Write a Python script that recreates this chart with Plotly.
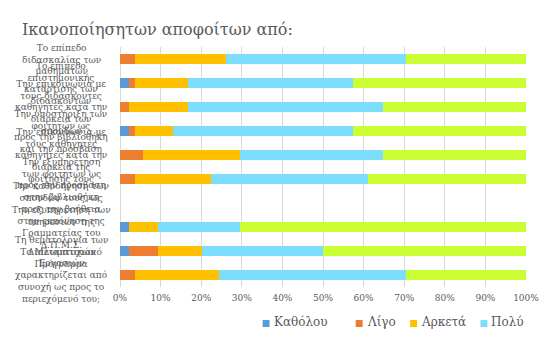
import plotly.graph_objects as go

categories = [
    "Το επίπεδο<br>διδασκαλίας των<br>μαθημάτων",
    "Το επίπεδο<br>επιστημονικής<br>κατάρτισης των<br>διδασκόντων",
    "Την επικοινωνία με<br>τους διδάσκοντες<br>καθηγητές κατά την<br>διάρκεια των<br>σπουδών",
    "Την υποστήριξη των<br>φοιτητών ως<br>προς την βιβλιοθήκη<br>και την πρόσβαση",
    "Την επικοινωνία με<br>τους καθηγητές<br>καθηγητές κατά την<br>διάρκεια της<br>φοίτησής τους",
    "Την εξυπηρέτηση<br>των φοιτητών ως<br>προς την πρόσβαση<br>στην βιβλιοθήκη",
    "Την καθοδήγηση των<br>σπουδών τους, ως<br>προς την βοήθεια<br>στην εκπόνηση της",
    "Την εξυπηρέτηση των<br>υπηρεσιών της<br>Γραμματείας του<br>Δ.Π.Μ.Σ.",
    "Τη θεματολογία των<br>Διπλωματικών<br>Εργασιών",
    "Το Μεταπτυχιακό<br>Πρόγραμμα<br>χαρακτηρίζεται από<br>συνοχή ως προς το<br>περιεχόμενό του;",
]

series_names = ["Καθόλου", "Λίγο", "Αρκετά", "Πολύ", "Πάρα πολύ"]
katholou = [0, 2.1, 0, 2.1, 0, 0, None, 2.1, 2.1, 0]
ligo = [3.8, 1.7, 2.1, 1.7, 5.7, 3.8, None, 0, 7.3, 3.8]
arketa = [22.3, 12.9, 14.6, 9.2, 23.9, 18.5, None, 7.3, 10.9, 20.5]
poly = [44.4, 40.8, 48.1, 44.5, 35.2, 38.9, None, 20.2, 29.7, 46.2]
para_poly = [29.5, 42.5, 35.2, 42.5, 35.2, 38.8, None, 70.4, 50.0, 29.5]
series_values = [katholou, ligo, arketa, poly, para_poly]
colors = ["#5B9BD5", "#ED7D31", "#FFC000", "#7DDDFD", "#CCFF33"]
show_in_legend = [True, True, True, True, False]
x_ticks = [0, 10, 20, 30, 40, 50, 60, 70, 80, 90, 100]
x_tick_labels = ["0%", "10%", "20%", "30%", "40%", "50%", "60%", "70%", "80%", "90%", "100%"]

FONT = "DejaVu Serif"
GRAY = "#595959"
W, H = 551, 339
ML, MR, MT, MB = 120, 21, 47, 52
PW, PH = W - ML - MR, H - MT - MB


def px_x(px):
    return (px - ML) / PW


def px_y(py):
    return (H - MB - py) / PH


fig = go.Figure()
for name, vals, col, sl in zip(series_names, series_values, colors, show_in_legend):
    fig.add_trace(go.Bar(
        y=categories, x=vals, name=name, orientation="h",
        marker=dict(color=col, line=dict(width=0)),
        showlegend=False,
    ))

for cat in categories:
    fig.add_annotation(
        x=-0.145, xref="paper", y=cat, yref="y", text=cat,
        showarrow=False, xanchor="center", yanchor="middle", align="center",
        font=dict(family=FONT, size=9, color=GRAY),
    )

# manual legend (only first four series shown, as in the original)
legend_px = [264, 358, 413, 484]
legend_items = [(n, c) for n, c, s in zip(series_names, colors, show_in_legend) if s]
for (name, col), lx in zip(legend_items, legend_px):
    fig.add_shape(type="rect", xref="paper", yref="paper",
                  x0=px_x(lx), x1=px_x(lx + 7), y0=px_y(327), y1=px_y(320),
                  fillcolor=col, line=dict(width=0))
    fig.add_annotation(x=px_x(lx + 9), xref="paper", y=px_y(321.5), yref="paper",
                       text=name, showarrow=False, xanchor="left", yanchor="middle",
                       font=dict(family=FONT, size=12, color=GRAY))

fig.update_layout(
    width=W, height=H,
    margin=dict(l=ML, r=MR, t=MT, b=MB),
    paper_bgcolor="white", plot_bgcolor="white",
    barmode="stack", bargap=0.6,
    showlegend=False,
    title=dict(text="Ικανοποίησητων αποφοίτων από:", x=0.04, xanchor="left",
               y=1 - 29 / H, yanchor="middle", yref="container",
               font=dict(family=FONT, size=16, color=GRAY)),
    xaxis=dict(range=[0, 100], tickvals=x_ticks, ticktext=x_tick_labels,
               showgrid=True, gridcolor="#D9D9D9", gridwidth=1,
               zeroline=True, zerolinecolor="#D9D9D9", zerolinewidth=1,
               showline=False, ticks="", ticklabelstandoff=4,
               tickfont=dict(family=FONT, size=9, color=GRAY)),
    yaxis=dict(range=[len(categories) - 0.5, -0.5], autorange=False,
               showticklabels=False, showgrid=False, zeroline=False, ticks=""),
)

fig.write_html("out.html")
